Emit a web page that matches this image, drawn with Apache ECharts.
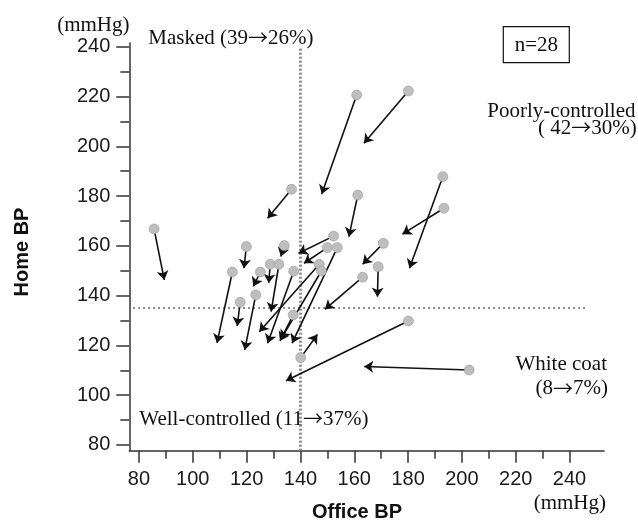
<!DOCTYPE html>
<html>
<head>
<meta charset="utf-8">
<script src="https://cdn.jsdelivr.net/npm/echarts@6/dist/echarts.min.js"></script>
<style>
html,body{margin:0;padding:0;background:#fff;}
#chart{width:638px;height:527px;}
</style>
</head>
<body>
<div id="chart"></div>
<script>
// Office BP (x) and Home BP (y): before (start, circle) -> after (end, arrow head)
const startX = [85.6, 114.7, 119.9, 117.6, 123.4, 125.1, 128.8, 132.0, 134.0, 137.5, 137.3, 140.1, 152.3, 150.0, 153.7, 147.0, 147.8, 160.9, 180.1, 136.7, 161.3, 192.9, 193.3, 170.8, 168.9, 163.1, 180.1, 202.7];
const startY = [166.8, 149.5, 159.7, 137.3, 140.3, 149.5, 152.6, 152.6, 160.1, 149.8, 132.2, 115.1, 163.9, 159.3, 159.3, 152.6, 149.9, 220.6, 222.2, 182.7, 180.4, 187.8, 175.1, 161.0, 151.6, 147.4, 129.8, 110.1];
const endX   = [89.4, 109.0, 119.0, 116.5, 119.3, 122.5, 128.2, 129.1, 132.7, 127.8, 132.4, 146.3, 139.3, 141.3, 136.9, 124.7, 132.8, 147.9, 163.6, 127.8, 158.0, 180.5, 177.9, 163.1, 168.6, 149.1, 134.6, 163.7];
const endY   = [146.3, 121.0, 151.0, 127.8, 118.2, 143.7, 145.1, 133.6, 155.7, 120.9, 121.8, 124.4, 157.0, 153.0, 120.9, 125.5, 122.6, 180.8, 201.2, 171.1, 163.7, 151.0, 164.7, 152.6, 139.6, 134.5, 105.8, 111.5];

const xMajorTicks = [80, 100, 120, 140, 160, 180, 200, 220, 240];
const xMinorTicks = [90, 110, 130, 150, 170, 190, 210, 230];
const yMajorTicks = [80, 100, 120, 140, 160, 180, 200, 220, 240];
const yMinorTicks = [90, 110, 130, 150, 170, 190, 210, 230];

const officeCutoff = 140;
const homeCutoff = 135;
const vLineY = [77.7, 240];
const hLineX = [77.8, 246.5];

const chart = echarts.init(document.getElementById('chart'), null, {renderer: 'canvas'});

const axisColor = '#333';
const labelFont = 'Liberation Sans';
const serif = '"Liberation Serif", "Times New Roman", serif';
const richArrow = {
  t: {fontFamily: serif, fontSize: 21, fill: '#111', color: '#111'},
  a: {fontFamily: '"Noto Sans CJK JP"', fontSize: 20, fill: '#111', color: '#111', padding: [0, 0, 1, 0]}
};

const arrowData = startX.map((x, i) => ({coords: [[x, startY[i]], [endX[i], endY[i]]]}));
const circleData = startX.map((x, i) => [x, startY[i]]);

function txt(x, y, text, align) {
  return {type: 'text', x: x, y: y, style: {text: text, font: '21px ' + serif, textAlign: align, textVerticalAlign: 'middle', fill: '#111'}};
}
function arrowTxt(x, y, before, after, align) {
  return {type: 'text', x: x, y: y, style: {
    text: '{t|' + before + '}{a|\u2192}{t|' + after + '}',
    rich: richArrow, textAlign: align, textVerticalAlign: 'middle', fill: '#111'}};
}

const option = {
  animation: false,
  backgroundColor: '#fff',
  grid: {left: 129.3, top: 43, right: 34, bottom: 76.3, containLabel: false},
  xAxis: [
    {
      type: 'value', min: 76.4, max: 252.8, position: 'bottom',
      axisLine: {show: true, onZero: false, lineStyle: {color: axisColor, width: 1.5}},
      axisTick: {show: true, customValues: xMajorTicks, length: 12, lineStyle: {color: axisColor, width: 1.5}},
      axisLabel: {show: true, customValues: xMajorTicks, margin: 19, fontSize: 20, fontFamily: labelFont, color: '#1a1a1a'},
      splitLine: {show: false}
    },
    {
      type: 'value', min: 76.4, max: 252.8, position: 'bottom',
      axisLine: {show: false, onZero: false},
      axisTick: {show: true, customValues: xMinorTicks, length: 8, lineStyle: {color: axisColor, width: 1.5}},
      axisLabel: {show: false},
      splitLine: {show: false}
    }
  ],
  yAxis: [
    {
      type: 'value', min: 77.7, max: 241.5, position: 'left',
      axisLine: {show: true, onZero: false, lineStyle: {color: axisColor, width: 1.5}},
      axisTick: {show: true, customValues: yMajorTicks, length: 13, lineStyle: {color: axisColor, width: 1.5}},
      axisLabel: {show: true, customValues: yMajorTicks, margin: 19, fontSize: 20, fontFamily: labelFont, color: '#1a1a1a'},
      splitLine: {show: false}
    },
    {
      type: 'value', min: 77.7, max: 241.5, position: 'left',
      axisLine: {show: false, onZero: false},
      axisTick: {show: true, customValues: yMinorTicks, length: 9, lineStyle: {color: axisColor, width: 1.5}},
      axisLabel: {show: false},
      splitLine: {show: false}
    }
  ],
  series: [
    {
      type: 'line', xAxisIndex: 0, yAxisIndex: 0, silent: true, symbol: 'none', z: 1,
      data: [[officeCutoff, vLineY[0]], [officeCutoff, vLineY[1]]],
      lineStyle: {color: '#8a8a8a', width: 3, type: [2, 2]}
    },
    {
      type: 'line', xAxisIndex: 0, yAxisIndex: 0, silent: true, symbol: 'none', z: 1,
      data: [[hLineX[0], homeCutoff], [hLineX[1], homeCutoff]],
      lineStyle: {color: '#8a8a8a', width: 2, type: [2, 3]}
    },
    {
      type: 'lines', coordinateSystem: 'cartesian2d', xAxisIndex: 0, yAxisIndex: 0, z: 3,
      symbol: ['none', 'arrow'], symbolSize: [6, 9],
      lineStyle: {color: '#111', width: 1.6, opacity: 1, curveness: 0},
      data: arrowData
    },
    {
      type: 'scatter', xAxisIndex: 0, yAxisIndex: 0, z: 4,
      symbol: 'circle', symbolSize: 10,
      itemStyle: {color: '#bebebe', borderColor: '#9a9a9a', borderWidth: 0.6, opacity: 1},
      data: circleData
    }
  ],
  graphic: [
    txt(129.5, 25, '(mmHg)', 'right'),
    arrowTxt(148.3, 38, 'Masked (39', '26%)', 'left'),
    {type: 'rect', shape: {x: 503.3, y: 26.7, width: 66, height: 36}, style: {fill: 'none', stroke: '#111', lineWidth: 1.2}},
    txt(536.3, 45, 'n=28', 'center'),
    txt(635.5, 111, 'Poorly-controlled', 'right'),
    arrowTxt(636.7, 128, '( 42', '30%)', 'right'),
    txt(607, 364.5, 'White coat', 'right'),
    arrowTxt(608, 388.5, '(8', '7%)', 'right'),
    arrowTxt(139.3, 419, 'Well-controlled (11', '37%)', 'left'),
    txt(606, 503, '(mmHg)', 'right'),
    {type: 'text', x: 22, y: 252, rotation: Math.PI / 2, style: {text: 'Home BP', font: 'bold 20px "Liberation Sans", Arial, sans-serif', textAlign: 'center', textVerticalAlign: 'middle', fill: '#111'}},
    {type: 'text', x: 357, y: 512, style: {text: 'Office BP', font: 'bold 20px "Liberation Sans", Arial, sans-serif', textAlign: 'center', textVerticalAlign: 'middle', fill: '#111'}}
  ]
};

chart.setOption(option);
</script>
</body>
</html>
